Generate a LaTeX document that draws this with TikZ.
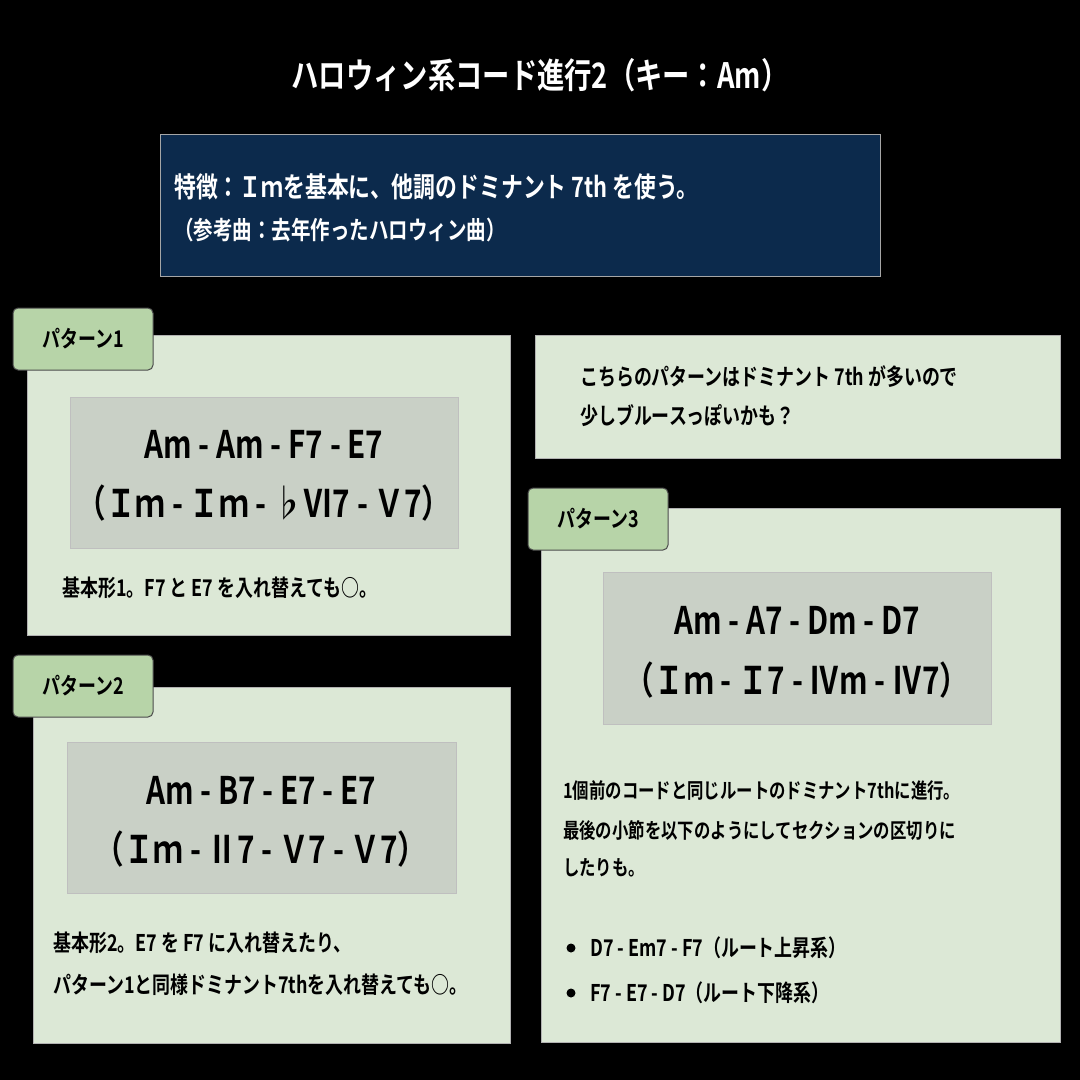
\documentclass[tikz,border=0pt]{standalone}
\usepackage{fontspec}
\setmainfont{Noto Sans CJK JP}[BoldFont={* Bold},FakeStretch=0.78]
\begin{document}
\begin{tikzpicture}[x=1pt,y=-1pt,
  panel/.style={fill=panelg,draw=gray!60,line width=0.8pt},
  tabbox/.style={fill=tabg,draw=black!70,rounded corners=5pt,line width=1pt},
  chordbox/.style={fill=chordg,draw=gray!50,line width=1pt},
  t/.style={font=\bfseries\fontsize{23}{26}\selectfont,anchor=west,inner sep=0pt},
  ch/.style={font=\bfseries\fontsize{38}{40}\selectfont,inner sep=0pt}]
\definecolor{panelg}{HTML}{DCE8D6}
\definecolor{tabg}{HTML}{B7D4A8}
\definecolor{chordg}{HTML}{C9D0C6}
\definecolor{navy}{HTML}{0C2A4C}
\fill[black] (0,0) rectangle (1080,1080);
\useasboundingbox (0,0) rectangle (1080,1080);
\node[font=\bfseries\fontsize{35}{38}\selectfont,text=white] (title) at (540,75) {ハロウィン系コード進行2（キー：Am）};
\draw[fill=navy,draw=gray!70,line width=1pt] (160,134) rectangle (880,276);
\node[t,text=white,font=\bfseries\fontsize{28}{30}\selectfont] (f1) at (174,187) {特徴：Ｉｍを基本に、他調のドミナント 7th を使う。};
\node[t,text=white,font=\bfseries\fontsize{25}{30}\selectfont] (f2) at (174,230) {（参考曲：去年作ったハロウィン曲）};
% panel 1
\draw[panel] (27,335) rectangle (510,635);
\draw[tabbox] (13,308) rectangle (153,370);
\node[font=\bfseries\fontsize{23}{26}\selectfont] (p1) at (83,339) {パターン1};
\draw[chordbox] (70,397) rectangle (458,548);
\node[ch] (c1a) at (264,444) {Am - Am - F7 - E7};
\node[ch] (c1b) at (264,503) {（Ｉｍ - Ｉｍ - ♭Ⅵ7 - Ｖ7）};
\node[t] (n1) at (62,588) {基本形1。F7 と E7 を入れ替えても○。};
% panel 2
\draw[panel] (33,687) rectangle (510,1043);
\draw[tabbox] (13,655) rectangle (153,717);
\node[font=\bfseries\fontsize{23}{26}\selectfont] (p2) at (83,686) {パターン2};
\draw[chordbox] (67,742) rectangle (456,893);
\node[ch] (c2a) at (261,790) {Am - B7 - E7 - E7};
\node[ch] (c2b) at (261,849) {（Ｉｍ - Ⅱ7 - Ｖ7 - Ｖ7）};
\node[t] (n2a) at (53,943) {基本形2。E7 を F7 に入れ替えたり、};
\node[t] (n2b) at (53,985) {パターン1と同様ドミナント7thを入れ替えても○。};
% right top
\draw[panel] (535,335) rectangle (1060,458);
\node[t] (r1) at (580,377) {こちらのパターンはドミナント 7th が多いので};
\node[t] (r2) at (580,416) {少しブルースっぽいかも？};
% panel 3
\draw[panel] (541,508) rectangle (1060,1042);
\draw[tabbox] (528,488) rectangle (668,550);
\node[font=\bfseries\fontsize{23}{26}\selectfont] (p3) at (598,519) {パターン3};
\draw[chordbox] (603,572) rectangle (991,724);
\node[ch] (c3a) at (797,620) {Am - A7 - Dm - D7};
\node[ch] (c3b) at (797,680) {（Ｉｍ - Ｉ7 - Ⅳm - Ⅳ7）};
\node[t,font=\bfseries\fontsize{21}{24}\selectfont] (n3a) at (563,790) {1個前のコードと同じルートのドミナント7thに進行。};
\node[t,font=\bfseries\fontsize{21}{24}\selectfont] (n3b) at (563,830) {最後の小節を以下のようにしてセクションの区切りに};
\node[t,font=\bfseries\fontsize{21}{24}\selectfont] (n3c) at (563,868) {したりも。};
\fill (571,948) circle (4.5);
\fill (571,993) circle (4.5);
\node[t] (b1) at (590,948) {D7 - Em7 - F7（ルート上昇系）};
\node[t] (b2) at (590,993) {F7 - E7 - D7（ルート下降系）};
\end{tikzpicture}
\end{document}
